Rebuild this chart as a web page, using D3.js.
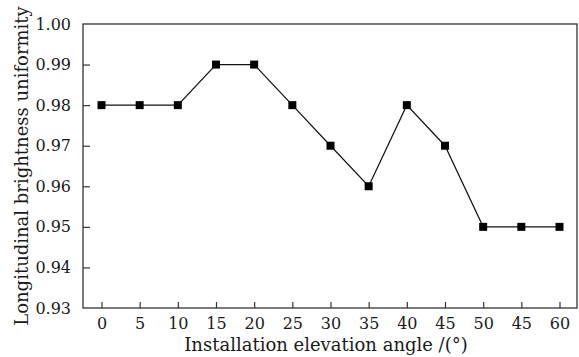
<!DOCTYPE html>
<html lang="en">
<head>
  <meta charset="UTF-8" />
  <script src="https://d3js.org/d3.v7.min.js"></script>
  <style>
    body { margin: 0; background: #fff; overflow: hidden; }
    svg { display: block; }
    text { font-family: "DejaVu Serif", "Liberation Serif", serif; fill: #1a1a1a; }
  </style>
</head>
<body>
  <svg width="579" height="357"></svg>
  <script>
    // angle labels as printed (the source repeats "45")
    const angleLabels = ["0", "5", "10", "15", "20", "25", "30", "35", "40", "45", "50", "45", "60"];
    const uniformity = [0.98, 0.98, 0.98, 0.99, 0.99, 0.98, 0.97, 0.96, 0.98, 0.97, 0.95, 0.95, 0.95];
    const yTicks = [0.93, 0.94, 0.95, 0.96, 0.97, 0.98, 0.99, 1.00];

    const svg = d3.select("svg");
    const plotLeft = 83, plotRight = 577, plotTop = 24, plotBottom = 308;

    const x = d3.scaleLinear().domain([0, angleLabels.length - 1]).range([101.5, 559.5]);
    const y = d3.scaleLinear().domain([0.93, 1.00]).range([plotBottom, plotTop]);

    // frame
    svg.append("rect")
      .attr("x", plotLeft).attr("y", plotTop)
      .attr("width", plotRight - plotLeft).attr("height", plotBottom - plotTop)
      .attr("fill", "none").attr("stroke", "#333").attr("stroke-width", 1.3);

    // y axis, ticks inward
    const yAxis = svg.append("g")
      .attr("transform", `translate(${plotLeft},0)`)
      .call(d3.axisLeft(y).tickValues(yTicks).tickSize(-7).tickPadding(12).tickFormat(d3.format(".2f")));
    yAxis.select(".domain").remove();
    yAxis.selectAll(".tick line").attr("stroke", "#333").attr("stroke-width", 1.2);
    yAxis.selectAll(".tick text").attr("font-size", 16).style("font-family", "DejaVu Serif, serif").attr("fill", "#1a1a1a");
    yAxis.selectAll(".tick").filter(d => d === 0.93 || d === 1.00).select("line").remove();

    // x axis, ticks inward
    const xAxis = svg.append("g")
      .attr("transform", `translate(0,${plotBottom})`)
      .call(d3.axisBottom(x).tickValues(d3.range(angleLabels.length)).tickSize(-6).tickPadding(10)
        .tickFormat(i => angleLabels[i]));
    xAxis.select(".domain").remove();
    xAxis.selectAll(".tick line").attr("stroke", "#333").attr("stroke-width", 1.2);
    xAxis.selectAll(".tick text").attr("font-size", 16).style("font-family", "DejaVu Serif, serif").attr("fill", "#1a1a1a");

    // line
    const line = d3.line().x((d, i) => x(i)).y(d => y(d));
    svg.append("path")
      .datum(uniformity)
      .attr("d", line)
      .attr("fill", "none").attr("stroke", "#111").attr("stroke-width", 1.2);

    // square markers
    svg.selectAll("rect.marker")
      .data(uniformity)
      .join("rect")
      .attr("class", "marker")
      .attr("x", (d, i) => x(i) - 4).attr("y", d => y(d) - 4)
      .attr("width", 8).attr("height", 8)
      .attr("fill", "#000");

    // axis titles
    svg.append("text")
      .attr("x", 326).attr("y", 351)
      .attr("text-anchor", "middle").attr("font-size", 18)
      .text("Installation elevation angle /(°)");

    svg.append("text")
      .attr("transform", "translate(28,166) rotate(-90)")
      .attr("text-anchor", "middle").attr("font-size", 18)
      .text("Longitudinal brightness uniformity");
  </script>
</body>
</html>
